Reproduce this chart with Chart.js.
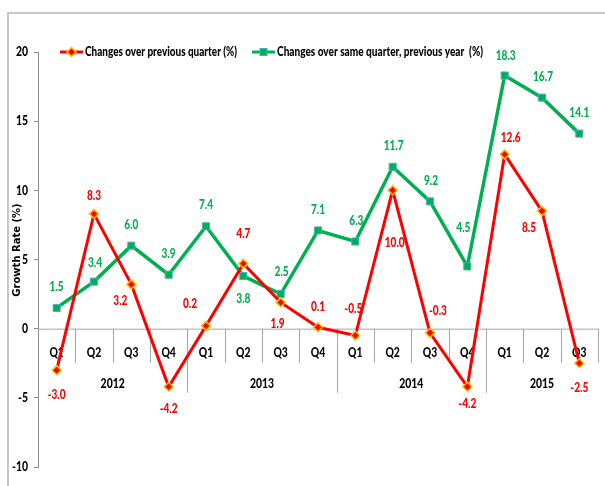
<!DOCTYPE html>
<html>
<head>
<meta charset="utf-8">
<script src="https://cdn.jsdelivr.net/npm/chart.js@4"></script>
<style>
  body { margin: 0; background: #fff; }
  #wrap { position: relative; width: 605px; height: 486px; overflow: hidden; }
  #frame { position: absolute; left: 7px; top: 12px; width: 700px; height: 600px; border: 2px solid #c8c8c8; }
  canvas { position: absolute; left: 0; top: 0; }
</style>
</head>
<body>
<div id="wrap">
  <div id="frame"></div>
  <canvas id="chartId" width="605" height="486"></canvas>
</div>
<script>
// quarters and years (two level category axis)
const quarters = ['Q1', 'Q2', 'Q3', 'Q4', 'Q1', 'Q2', 'Q3', 'Q4', 'Q1', 'Q2', 'Q3', 'Q4', 'Q1', 'Q2', 'Q3'];
const years = ['2012', '2013', '2014', '2015'];
const quartersPerYear = [4, 4, 4, 3];

// growth rates
const prevQuarter = [-3.0, 8.3, 3.2, -4.2, 0.2, 4.7, 1.9, 0.1, -0.5, 10.0, -0.3, -4.2, 12.6, 8.5, -2.5];
const prevYear = [1.5, 3.4, 6.0, 3.9, 7.4, 3.8, 2.5, 7.1, 6.3, 11.7, 9.2, 4.5, 18.3, 16.7, 14.1];

const yTicks = { min: -10, max: 20, step: 5 };

// label offsets from the point, in px
const redLabelPos = [[0, 25], [0, -18], [-11, 16], [0, 22], [-16, -22], [0, -30], [-3, 21], [0, -20],
  [-2, -27], [2, 52], [8, -22], [0, 17], [6, -17], [-13, 17], [0, 25]];
const greenLabelPos = [[0, -21], [1, -19], [0, -21], [0, -21], [0, -21], [0, 23], [1, -22], [0, -21],
  [1, -21], [1, -21], [1, -21], [-4, -39], [1, -20], [1, -21], [0, -21]];

const RED = '#ff0000';
const GREEN = '#00b050';
const FONT = "'Lato', 'Open Sans', sans-serif";
const WEIGHT = '900';

const ctx = document.getElementById('chartId').getContext('2d');

// narrow bold text (the original uses a condensed font)
function narrowText(c, text, x, y, sx) {
    c.save();
    c.translate(x, y);
    c.scale(sx, 1);
    c.fillText(text, 0, 0);
    c.restore();
}

function fitText(c, text, x, y, width) {
    narrowText(c, text, x, y, width / c.measureText(text).width);
}

const axisPlugin = {
    id: 'axisPlugin',
    beforeDatasetsDraw(chart) {
        const c = chart.ctx;
        const x = chart.scales.x;
        const y = chart.scales.y;
        const y0 = y.getPixelForValue(0);
        const area = chart.chartArea;
        const half = (x.getPixelForValue(1) - x.getPixelForValue(0)) / 2;
        c.save();
        c.strokeStyle = '#a6a6a6';
        c.lineWidth = 1;
        c.beginPath();
        c.moveTo(area.left, y0 + 0.5);
        c.lineTo(area.right, y0 + 0.5);
        c.stroke();

        // group boundaries
        const ends = [];
        let n = 0;
        quartersPerYear.forEach(q => { n += q; ends.push(n); });
        for (let i = 1; i <= quarters.length; i++) {
            const bx = Math.round(x.getPixelForValue(i - 1) + half) + 0.5;
            const long = ends.includes(i) && i < quarters.length;
            c.beginPath();
            c.moveTo(bx, y0);
            c.lineTo(bx, y0 + (long ? 64 : 34));
            c.stroke();
        }

        c.fillStyle = '#000';
        c.textAlign = 'center';
        c.textBaseline = 'middle';
        c.font = WEIGHT + ' 13px ' + FONT;
        quarters.forEach((q, i) => {
            narrowText(c, q, x.getPixelForValue(i), y0 + 24, 0.8);
        });
        let start = 0;
        years.forEach((yr, k) => {
            const a = x.getPixelForValue(start);
            const b = x.getPixelForValue(start + quartersPerYear[k] - 1);
            narrowText(c, yr, (a + b) / 2, y0 + 55, 0.8);
            start += quartersPerYear[k];
        });

        // y tick labels
        c.textAlign = 'right';
        y.ticks.forEach(t => {
            narrowText(c, String(t.value), 28, y.getPixelForValue(t.value), 0.8);
        });
        c.restore();
    },
    afterDatasetsDraw(chart) {
        const c = chart.ctx;
        c.save();
        c.textAlign = 'center';
        c.textBaseline = 'middle';
        c.font = WEIGHT + ' 13px ' + FONT;
        const sets = [[0, RED, redLabelPos], [1, GREEN, greenLabelPos]];
        sets.forEach(([di, color, pos]) => {
            const meta = chart.getDatasetMeta(di);
            c.fillStyle = color;
            meta.data.forEach((pt, i) => {
                const v = chart.data.datasets[di].data[i];
                narrowText(c, v.toFixed(1), pt.x + pos[i][0], pt.y + pos[i][1], 0.78);
            });
        });

        // legend
        const ly = 52;
        c.lineWidth = 3;
        c.strokeStyle = RED;
        c.beginPath(); c.moveTo(60, ly); c.lineTo(83, ly); c.stroke();
        c.fillStyle = RED;
        c.strokeStyle = '#ffc000';
        c.lineWidth = 1.5;
        c.beginPath();
        c.moveTo(71.5, ly - 4.5); c.lineTo(76, ly); c.lineTo(71.5, ly + 4.5); c.lineTo(67, ly);
        c.closePath(); c.fill(); c.stroke();

        c.lineWidth = 3;
        c.strokeStyle = GREEN;
        c.beginPath(); c.moveTo(252, ly); c.lineTo(275, ly); c.stroke();
        c.fillStyle = GREEN;
        c.strokeStyle = '#4bacc6';
        c.lineWidth = 1;
        c.fillRect(260, ly - 3.5, 7, 7);
        c.strokeRect(260, ly - 3.5, 7, 7);

        c.fillStyle = '#000';
        c.textAlign = 'left';
        c.font = WEIGHT + ' 13px ' + FONT;
        fitText(c, 'Changes over previous quarter (%)', 85, ly, 152);
        fitText(c, 'Changes over same quarter, previous year  (%)', 277, ly, 206);

        // y title
        c.translate(17, 250);
        c.rotate(-Math.PI / 2);
        c.textAlign = 'center';
        c.font = "bold 10px 'DejaVu Sans', sans-serif";
        c.fillText('Growth Rate (%)', 0, 0);
        c.restore();
    }
};

const data = {
    labels: quarters,
    datasets: [{
        label: 'Changes over previous quarter (%)',
        data: prevQuarter,
        borderColor: RED,
        borderWidth: 3,
        pointStyle: 'rectRot',
        pointRadius: 4.5,
        pointBackgroundColor: RED,
        pointBorderColor: '#ffc000',
        pointBorderWidth: 1.5,
        tension: 0,
        fill: false
    }, {
        label: 'Changes over same quarter, previous year  (%)',
        data: prevYear,
        borderColor: GREEN,
        borderWidth: 3.5,
        pointStyle: 'rect',
        pointRadius: 5,
        pointBackgroundColor: GREEN,
        pointBorderColor: '#4bacc6',
        pointBorderWidth: 1,
        tension: 0,
        fill: false
    }]
};

const options = {
    responsive: false,
    animation: false,
    devicePixelRatio: 1,
    layout: { padding: { top: 52, right: 7, bottom: 19, left: 0 } },
    plugins: {
        legend: { display: false },
        tooltip: { enabled: false }
    },
    scales: {
        x: {
            type: 'category',
            display: false,
            offset: true
        },
        y: {
            min: yTicks.min,
            max: yTicks.max,
            ticks: {
                stepSize: yTicks.step,
                color: 'rgba(0,0,0,0)', // labels drawn narrow by the plugin
                padding: 9,
                font: { family: FONT, weight: 'bold', size: 12 }
            },
            grid: { display: true, drawOnChartArea: false, drawTicks: true, tickLength: 4, color: '#8c8c8c' },
            border: { display: true, color: '#8c8c8c', width: 1 },
            afterFit: scale => { scale.width = 38; }
        }
    }
};

const chart = new Chart(ctx, {
    type: 'line',
    data: data,
    options: options,
    plugins: [axisPlugin]
});
</script>
</body>
</html>
